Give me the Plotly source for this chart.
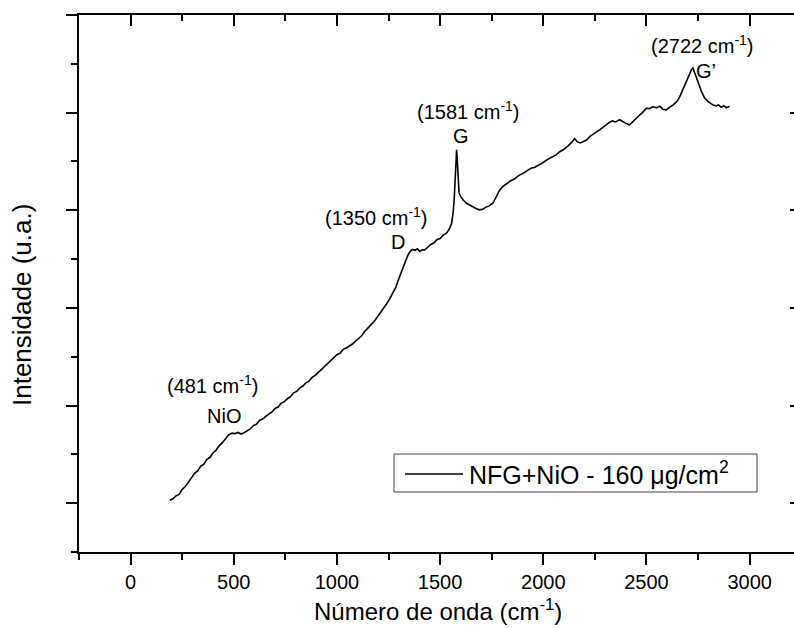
import plotly.graph_objects as go

# Raman spectrum of NFG+NiO (160 µg/cm²)
wavenumber = [
    190, 205, 220, 235, 250, 265, 280, 295, 310, 325, 340, 355, 370, 385, 400,
    415, 430, 445, 460, 475, 491, 505, 520, 535, 550, 565, 580, 595, 610, 626,
    640, 655, 670, 685, 700, 715, 730, 745, 760, 775, 790, 805, 820, 835, 850,
    865, 880, 895, 910, 925, 940, 955, 970, 985, 1000, 1015, 1030, 1045, 1060,
    1075, 1090, 1105, 1120, 1135, 1150, 1165, 1180, 1195, 1210, 1225, 1240, 1255,
    1270, 1285, 1300, 1315, 1330, 1342, 1353, 1365, 1378, 1390, 1402, 1414, 1425,
    1440, 1455, 1470, 1485, 1500, 1515, 1531, 1545, 1555, 1563, 1568, 1573, 1577,
    1580, 1583, 1587, 1592, 1600, 1612, 1628, 1645, 1660, 1676, 1692, 1706, 1720,
    1738, 1756, 1772, 1789, 1805, 1820, 1840, 1860, 1880, 1900, 1920, 1940, 1960,
    1982, 2000, 2020, 2040, 2060, 2080, 2100, 2120, 2140, 2152, 2165, 2180, 2195,
    2210, 2225, 2240, 2256, 2273, 2290, 2305, 2320, 2335, 2350, 2370, 2385, 2400,
    2418, 2432, 2446, 2460, 2480, 2500, 2515, 2530, 2550, 2565, 2580, 2596, 2612,
    2630, 2645, 2653, 2665, 2675, 2685, 2693, 2702, 2710, 2718, 2725, 2732, 2740,
    2748, 2758, 2766, 2775, 2782, 2790, 2800, 2815, 2825, 2839, 2850, 2862, 2875,
    2888, 2903,
]
intensity = [
    1030, 1045, 1075, 1090, 1140, 1170, 1215, 1260, 1305, 1330, 1380, 1400, 1450,
    1470, 1515, 1545, 1590, 1620, 1665, 1700, 1717, 1712, 1725, 1708, 1722, 1745,
    1760, 1795, 1810, 1850, 1862, 1890, 1915, 1935, 1970, 1985, 2025, 2040, 2070,
    2090, 2130, 2145, 2180, 2200, 2235, 2250, 2290, 2310, 2340, 2370, 2395, 2420,
    2460, 2480, 2520, 2535, 2575, 2590, 2610, 2630, 2660, 2690, 2715, 2760, 2790,
    2820, 2860, 2905, 2950, 2985, 3040, 3090, 3150, 3210, 3300, 3390, 3470, 3530,
    3573, 3600, 3590, 3605, 3578, 3595, 3593, 3625, 3650, 3665, 3700, 3710, 3745,
    3765, 3810, 3860, 3970, 4100, 4350, 4560, 4620, 4520, 4350, 4175, 4140, 4105,
    4072, 4050, 4030, 4015, 4004, 4010, 4030, 4045, 4072, 4140, 4209, 4245, 4270,
    4300, 4320, 4355, 4375, 4400, 4430, 4440, 4465, 4490, 4520, 4545, 4565, 4600,
    4625, 4660, 4700, 4735, 4700, 4690, 4705, 4720, 4755, 4780, 4800, 4824, 4850,
    4880, 4900, 4915, 4905, 4927, 4905, 4890, 4875, 4900, 4935, 4960, 5000, 5046,
    5040, 5060, 5050, 5065, 5035, 5029, 5055, 5080, 5110, 5132, 5180, 5230, 5270,
    5303, 5360, 5400, 5440, 5457, 5420, 5380, 5320, 5268, 5220, 5180, 5150, 5132,
    5110, 5090, 5075, 5070, 5080, 5055, 5070, 5050, 5065,
]

# Band labels: position line and band name, each with its anchor point
band_pos_text = ["(481 cm<sup>-1</sup>)", "(1350 cm<sup>-1</sup>)",
                 "(1581 cm<sup>-1</sup>)", "(2722 cm<sup>-1</sup>)"]
band_pos_x = [399, 1192, 1639, 2770]
band_pos_y = [2220, 3940, 5020, 5695]
band_name_text = ["NiO", "D", "G", "G’"]
band_name_x = [452, 1295, 1600, 2787]
band_name_y = [1890, 3675, 4758, 5430]

legend_label = "NFG+NiO - 160 μg/cm<sup>2</sup>"
x_title = "Número de onda (cm<sup>-1</sup>)"
y_title = "Intensidade (u.a.)"

x_range = [-250, 3215]
y_range = [500, 6000]

FONT = "Arial, Liberation Sans, sans-serif"

fig = go.Figure()
fig.add_trace(go.Scatter(
    x=wavenumber, y=intensity, mode="lines",
    line=dict(color="black", width=1.6), showlegend=False,
))
# transparent copy that carries the mirrored top/right axes
fig.add_trace(go.Scatter(
    x=wavenumber, y=intensity, mode="lines", xaxis="x2", yaxis="y2",
    line=dict(color="rgba(0,0,0,0)", width=0), showlegend=False, hoverinfo="skip",
))

annotations = []
for t, x, y in zip(band_pos_text, band_pos_x, band_pos_y):
    annotations.append(dict(x=x, y=y, text=t, showarrow=False,
                            font=dict(size=20, family=FONT, color="black")))
for t, x, y in zip(band_name_text, band_name_x, band_name_y):
    annotations.append(dict(x=x, y=y, text=t, showarrow=False,
                            font=dict(size=20, family=FONT, color="black")))

# pixel-aligned paper coordinates for the legend box and axis titles
W, H = 794, 628
ML, MR, MT, MB = 79, 0, 15, 76
pw, ph = W - ML - MR, H - MT - MB


def px(xp):
    return (xp - ML) / pw


def py(yp):
    return (H - MB - yp) / ph


shapes = [
    dict(type="rect", xref="paper", yref="paper",
         x0=px(394), x1=px(757), y0=py(492), y1=py(454),
         line=dict(color="#444", width=1), fillcolor="white", layer="above"),
    dict(type="line", xref="paper", yref="paper",
         x0=px(405), x1=px(463), y0=py(474), y1=py(474),
         line=dict(color="black", width=1.6), layer="above"),
]
annotations.append(dict(xref="paper", yref="paper", x=px(467), y=py(473),
                        xanchor="left", yanchor="middle", text=legend_label,
                        showarrow=False,
                        font=dict(size=25, family=FONT, color="black")))
annotations.append(dict(xref="paper", yref="paper", x=px(438), y=py(610),
                        xanchor="center", yanchor="middle", text=x_title,
                        showarrow=False,
                        font=dict(size=24, family=FONT, color="black")))
annotations.append(dict(xref="paper", yref="paper", x=px(22), y=py(305),
                        xanchor="center", yanchor="middle", text=y_title,
                        textangle=-90, showarrow=False,
                        font=dict(size=26, family=FONT, color="black")))

fig.update_layout(
    width=W, height=H,
    margin=dict(l=ML, r=MR, t=MT, b=MB),
    paper_bgcolor="white", plot_bgcolor="white",
    font=dict(family=FONT, color="black"),
    annotations=annotations, shapes=shapes,
    xaxis=dict(
        range=x_range, tick0=0, dtick=500, ticks="outside", ticklen=11,
        tickwidth=2, tickcolor="black", showline=True, linewidth=2,
        linecolor="black", showgrid=False, zeroline=False,
        tickfont=dict(size=20, family=FONT),
        minor=dict(dtick=250, tick0=0, ticks="outside", ticklen=6,
                   tickwidth=2, tickcolor="black", showgrid=False),
    ),
    xaxis2=dict(
        overlaying="x", matches="x", side="top", range=x_range, tick0=0,
        dtick=500, ticks="inside", ticklen=11, tickwidth=2, tickcolor="black",
        showline=True, linewidth=2, linecolor="black", showgrid=False,
        zeroline=False, showticklabels=False,
        minor=dict(dtick=250, tick0=0, ticks="inside", ticklen=6,
                   tickwidth=2, tickcolor="black", showgrid=False),
    ),
    yaxis=dict(
        range=y_range, tick0=0, dtick=1000, ticks="outside", ticklen=11,
        tickwidth=2, tickcolor="black", showline=True, linewidth=2,
        linecolor="black", showgrid=False, zeroline=False,
        showticklabels=False,
        minor=dict(dtick=500, tick0=0, ticks="outside", ticklen=6,
                   tickwidth=2, tickcolor="black", showgrid=False),
    ),
    yaxis2=dict(
        overlaying="y", matches="y", side="right", range=y_range, tick0=0,
        dtick=1000, ticks="inside", ticklen=4, tickwidth=2, tickcolor="black",
        showline=False, showgrid=False, zeroline=False, showticklabels=False,
    ),
)

fig.write_html("out.html")
